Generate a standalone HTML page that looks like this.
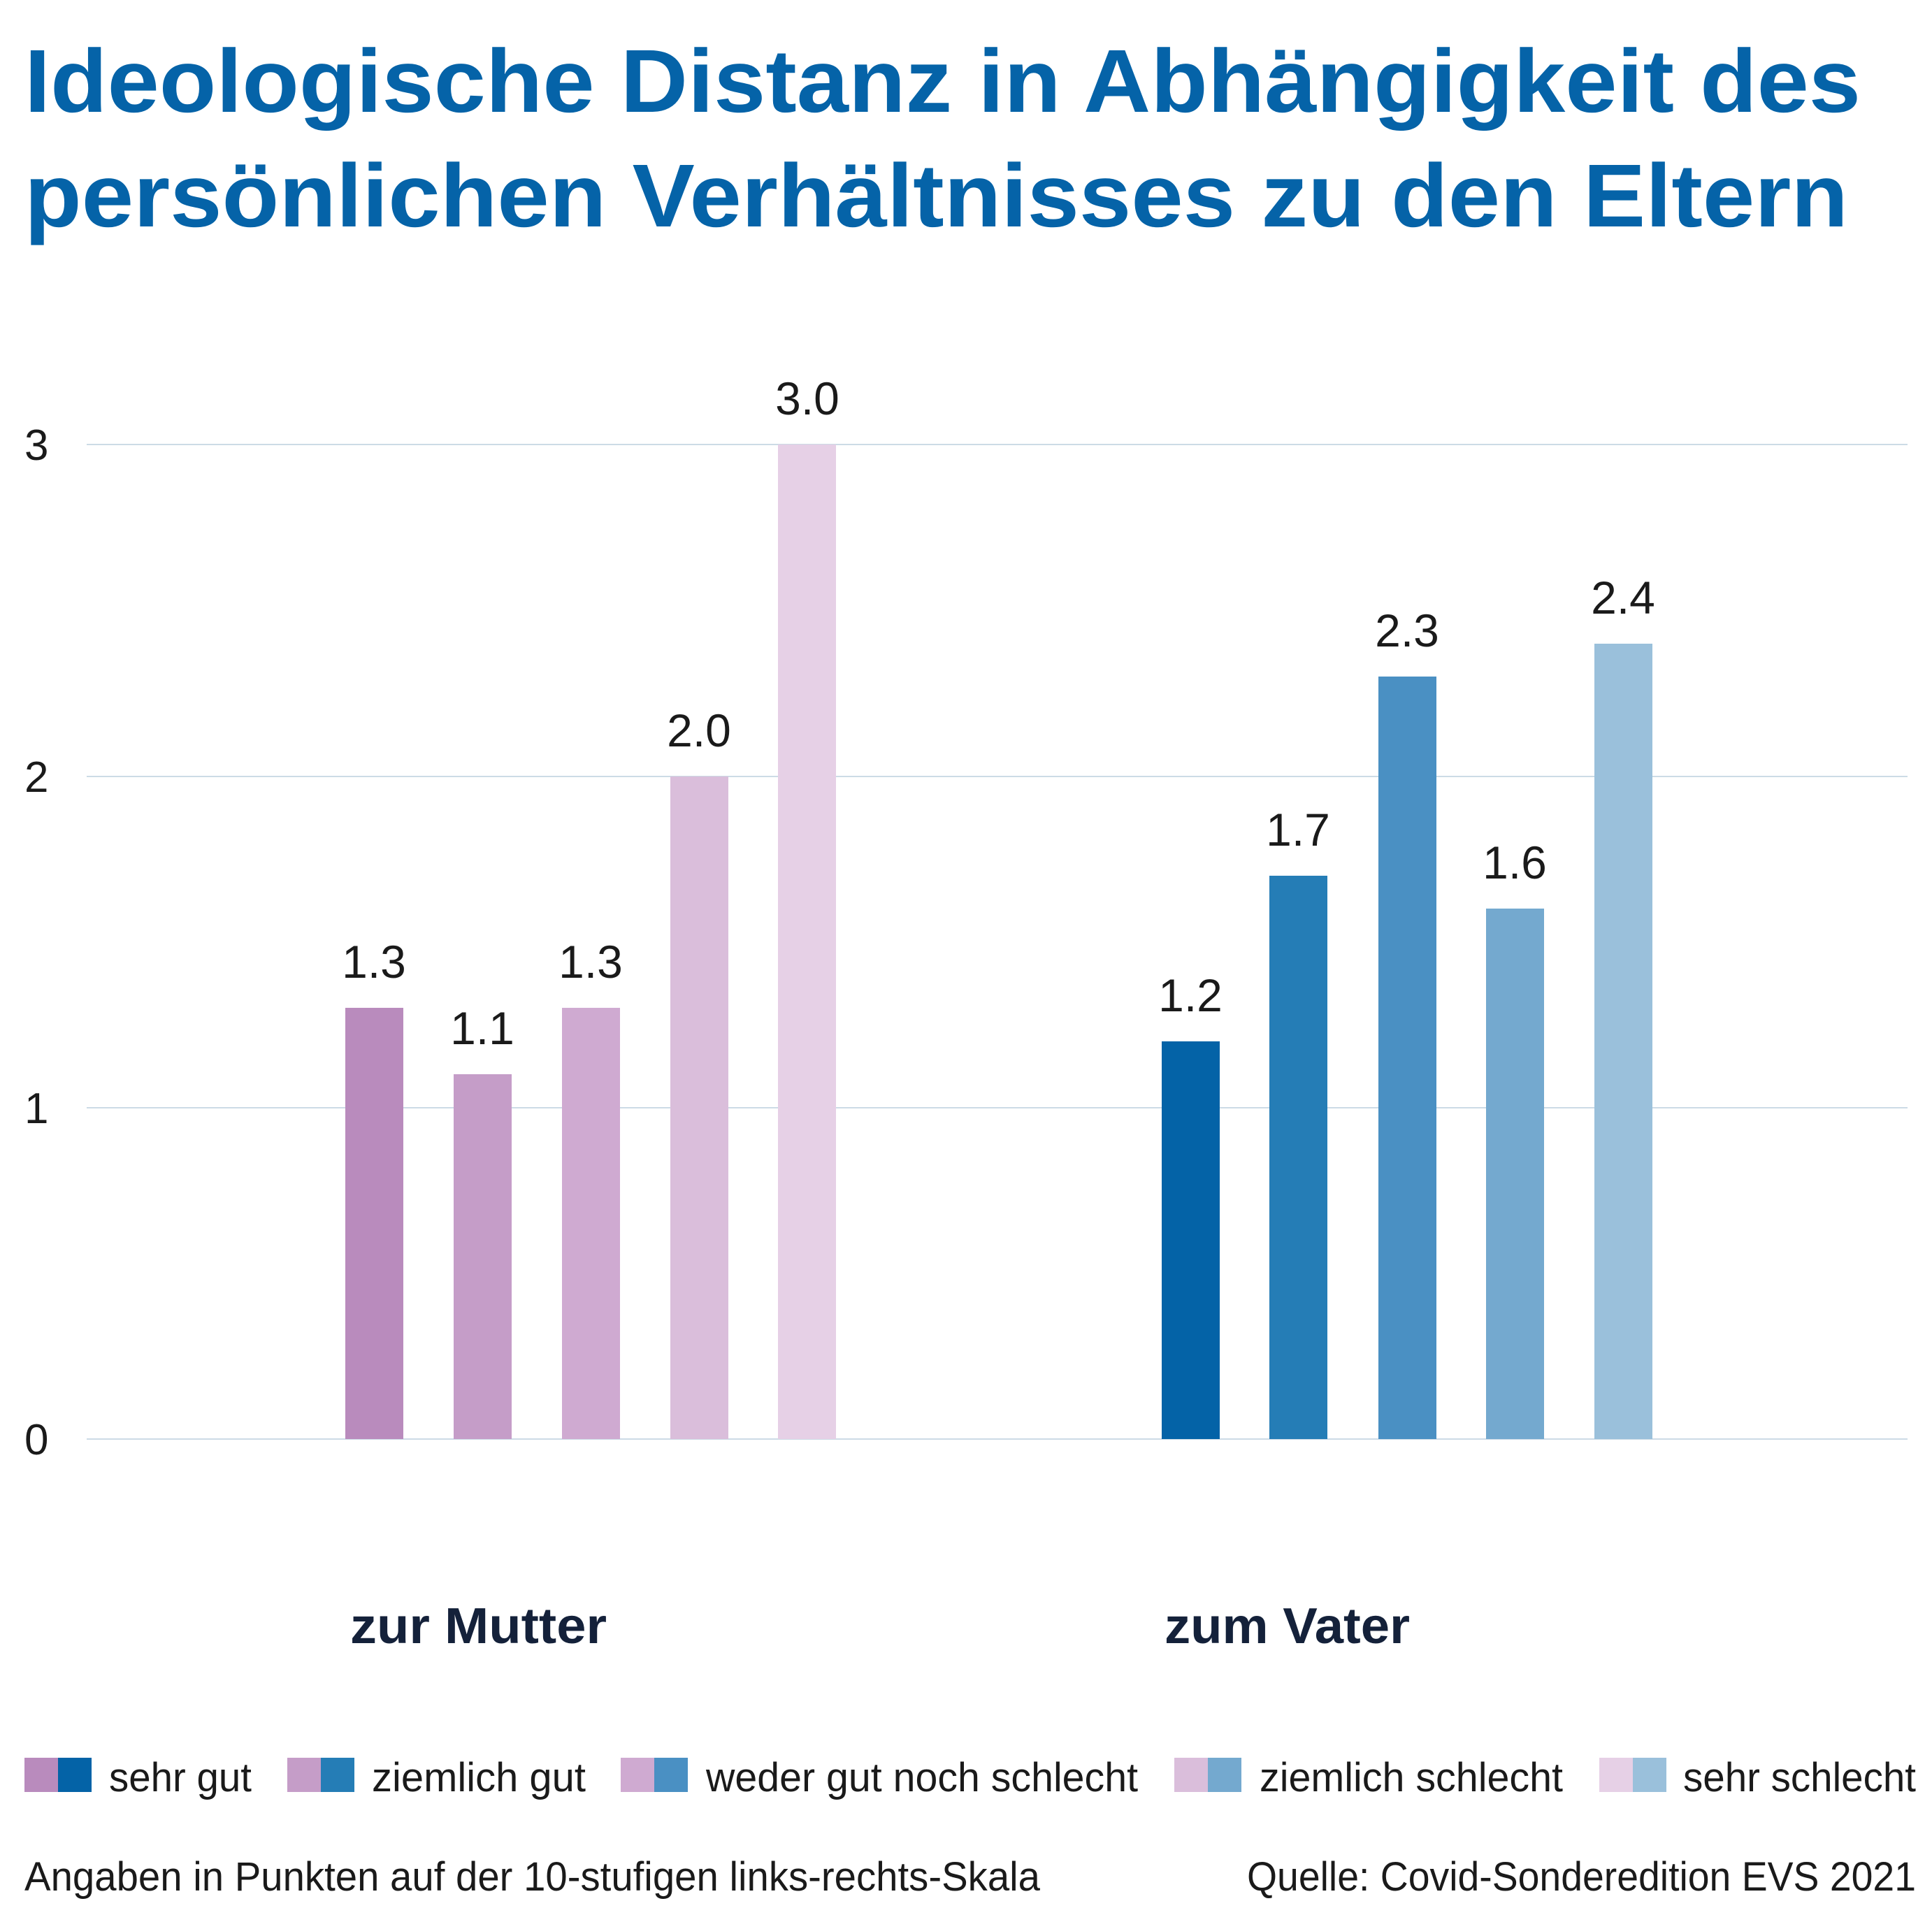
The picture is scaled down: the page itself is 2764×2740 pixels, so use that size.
<!DOCTYPE html>
<html><head><meta charset="utf-8"><style>html,body{margin:0;padding:0;background:#fff}svg{display:block}</style></head>
<body>
<svg width="2764" height="2740" viewBox="0 0 2764 2740" xmlns="http://www.w3.org/2000/svg" font-family="Liberation Sans, sans-serif">
<rect width="2764" height="2740" fill="#fff"/>
<g fill="#0563a8" font-weight="bold" font-size="128">
<text x="35" y="160" textLength="2627" lengthAdjust="spacingAndGlyphs">Ideologische Distanz in Abhängigkeit des</text>
<text x="35" y="324" textLength="2609" lengthAdjust="spacingAndGlyphs">persönlichen Verhältnisses zu den Eltern</text>
</g>
<g stroke="#ccdbe6" stroke-width="2">
<line x1="124" x2="2729" y1="636" y2="636"/>
<line x1="124" x2="2729" y1="1111" y2="1111"/>
<line x1="124" x2="2729" y1="1585" y2="1585"/>
<line x1="124" x2="2729" y1="2059" y2="2059"/>
</g>
<g fill="#1a1a1a" font-size="62">
<text x="35" y="658">3</text>
<text x="35" y="1133">2</text>
<text x="35" y="1607">1</text>
<text x="35" y="2081">0</text>
</g>
<g>
<rect x="494" y="1442" width="83" height="617" fill="#b98bbd"/>
<rect x="649" y="1537" width="83" height="522" fill="#c59dc8"/>
<rect x="804" y="1442" width="83" height="617" fill="#cfaad1"/>
<rect x="959" y="1111" width="83" height="948" fill="#dabedb"/>
<rect x="1113" y="636" width="83" height="1423" fill="#e6d0e6"/>
<rect x="1662" y="1490" width="83" height="569" fill="#0463a7"/>
<rect x="1816" y="1253" width="83" height="806" fill="#257db6"/>
<rect x="1972" y="968" width="83" height="1091" fill="#4a90c3"/>
<rect x="2126" y="1300" width="83" height="759" fill="#74a9cf"/>
<rect x="2281" y="921" width="83" height="1138" fill="#9ac0db"/>
</g>
<g fill="#1a1a1a" font-size="66" text-anchor="middle">
<text x="535" y="1399">1.3</text>
<text x="690" y="1494">1.1</text>
<text x="845" y="1399">1.3</text>
<text x="1000" y="1068">2.0</text>
<text x="1155" y="593">3.0</text>
<text x="1703" y="1447">1.2</text>
<text x="1857" y="1210">1.7</text>
<text x="2013" y="925">2.3</text>
<text x="2167" y="1257">1.6</text>
<text x="2322" y="878">2.4</text>
</g>
<g fill="#14213a" font-weight="bold" font-size="72">
<text x="501" y="2351" textLength="367" lengthAdjust="spacingAndGlyphs">zur Mutter</text>
<text x="1666" y="2351" textLength="351" lengthAdjust="spacingAndGlyphs">zum Vater</text>
</g>
<g>
<rect x="35" y="2515" width="48" height="49" fill="#b98bbd"/><rect x="83" y="2515" width="48" height="49" fill="#0463a7"/>
<rect x="411" y="2515" width="48" height="49" fill="#c59dc8"/><rect x="459" y="2515" width="48" height="49" fill="#257db6"/>
<rect x="888" y="2515" width="48" height="49" fill="#cfaad1"/><rect x="936" y="2515" width="48" height="49" fill="#4a90c3"/>
<rect x="1680" y="2515" width="48" height="49" fill="#dabedb"/><rect x="1728" y="2515" width="48" height="49" fill="#74a9cf"/>
<rect x="2288" y="2515" width="48" height="49" fill="#e6d0e6"/><rect x="2336" y="2515" width="48" height="49" fill="#9ac0db"/>
</g>
<g fill="#1a1a1a" font-size="58">
<text x="156" y="2563" textLength="204" lengthAdjust="spacingAndGlyphs">sehr gut</text>
<text x="532" y="2563" textLength="306" lengthAdjust="spacingAndGlyphs">ziemlich gut</text>
<text x="1010" y="2563" textLength="618" lengthAdjust="spacingAndGlyphs">weder gut noch schlecht</text>
<text x="1802" y="2563" textLength="434" lengthAdjust="spacingAndGlyphs">ziemlich schlecht</text>
<text x="2408" y="2563" textLength="333" lengthAdjust="spacingAndGlyphs">sehr schlecht</text>
<text x="35" y="2705" textLength="1453" lengthAdjust="spacingAndGlyphs">Angaben in Punkten auf der 10-stufigen links-rechts-Skala</text>
<text x="1784" y="2705" textLength="957" lengthAdjust="spacingAndGlyphs">Quelle: Covid-Sonderedition EVS 2021</text>
</g>
</svg>
</body></html>
